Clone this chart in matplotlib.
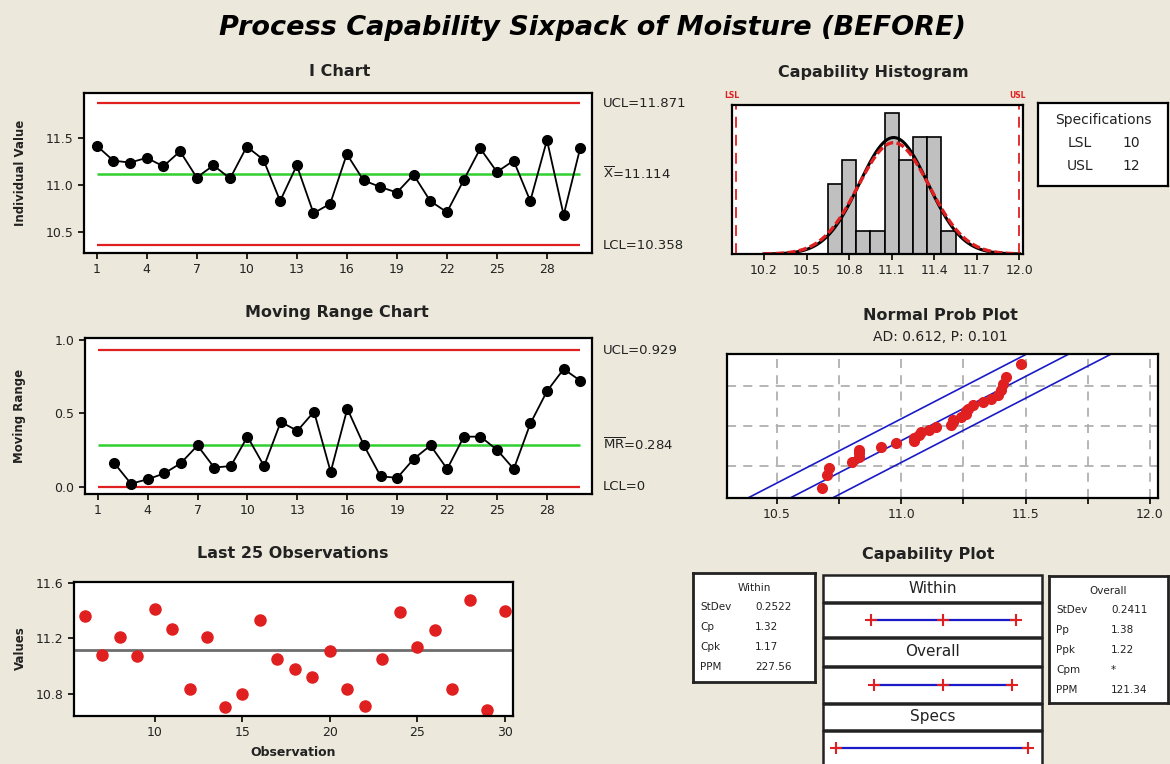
from statistics import NormalDist

import matplotlib
matplotlib.use("Agg")
import matplotlib.pyplot as plt
import numpy as np
from matplotlib.patches import Rectangle
from matplotlib.ticker import FormatStrFormatter
from matplotlib.transforms import blended_transform_factory

# moisture readings in run order
moisture = [11.42, 11.26, 11.24, 11.29, 11.20, 11.36, 11.08, 11.21, 11.07, 11.41,
            11.27, 10.83, 11.21, 10.70, 10.80, 11.33, 11.05, 10.98, 10.92, 11.11,
            10.83, 10.71, 11.05, 11.39, 11.14, 11.26, 10.83, 11.48, 10.68, 11.40]

x_bar, i_ucl, i_lcl = 11.114, 11.871, 10.358
mr_bar, mr_ucl, mr_lcl = 0.284, 0.929, 0.0
lsl, usl = 10, 12
sd_within, sd_overall = 0.2522, 0.2411
ad_stat, ad_p = 0.612, 0.101
band_hw = 0.17   # half-width of the probability plot bands

hist_edges = [10.65, 10.75, 10.85, 10.95, 11.05, 11.15, 11.25, 11.35, 11.45, 11.55]
i_ticks = [1, 4, 7, 10, 13, 16, 19, 22, 25, 28]
hist_ticks = [10.2, 10.5, 10.8, 11.1, 11.4, 11.7, 12.0]

within_labels = ["StDev", "Cp", "Cpk", "PPM"]
within_values = ["0.2522", "1.32", "1.17", "227.56"]
overall_labels = ["StDev", "Pp", "Ppk", "Cpm", "PPM"]
overall_values = ["0.2411", "1.38", "1.22", "*", "121.34"]

BG = "#ECE9DC"
RED = "#E02020"
GREEN = "#30D030"
BLUE = "#1A1AC8"
TXT = "#222222"

W, H = 1170, 764
fig = plt.figure(figsize=(W / 100, H / 100), dpi=100, facecolor=BG)


def box(l, t, r, b):
    return fig.add_axes([l / W, 1 - b / H, (r - l) / W, (b - t) / H])


def style(ax):
    for s in ax.spines.values():
        s.set_linewidth(1.6)
        s.set_color("black")
    ax.tick_params(direction="out", length=4, width=1.2, labelsize=9, colors="black",
                   labelcolor=TXT)


def ftext(x, y, s, **kw):
    kw.setdefault("ha", "center")
    kw.setdefault("va", "center")
    fig.text(x / W, 1 - y / H, s, **kw)


ftext(592, 28, "Process Capability Sixpack of Moisture (BEFORE)", fontsize=19.5,
      weight="bold", style="italic")

obs = np.arange(1, len(moisture) + 1)
n = len(moisture)

# I chart
ax = box(84, 93, 592, 253)
style(ax)
ax.hlines([i_ucl, i_lcl], 1, n, color=RED, lw=1.6)
ax.hlines(x_bar, 1, n, color=GREEN, lw=1.8)
ax.plot(obs, moisture, "o-", color="black", ms=7, lw=1.3)
ax.set_xlim(0.24, 30.7)
ax.set_ylim(10.275, 11.982)
ax.set_xticks(i_ticks)
ax.set_yticks([10.5, 11.0, 11.5])
ax.yaxis.set_major_formatter(FormatStrFormatter("%.1f"))
tr = blended_transform_factory(ax.transAxes, ax.transData)
for v, s in [(i_ucl, f"UCL={i_ucl}"), (x_bar, r"$\overline{\rm X}$=" + f"{x_bar}"),
             (i_lcl, f"LCL={i_lcl}")]:
    ax.text(1.022, v, s, transform=tr, va="center", fontsize=9.5, color=TXT)
ftext(340, 72, "I Chart", fontsize=11.5, weight="bold", color=TXT)
ftext(20, 173, "Individual Value", fontsize=8.5, weight="bold", rotation=90, color=TXT)

# moving range chart
mr = np.abs(np.diff(moisture))
ax = box(85, 338, 592, 494)
style(ax)
ax.hlines([mr_ucl, mr_lcl], 1, n, color=RED, lw=1.6)
ax.hlines(mr_bar, 1, n, color=GREEN, lw=1.8)
ax.plot(obs[1:], mr, "o-", color="black", ms=7, lw=1.3)
ax.set_xlim(0.24, 30.7)
ax.set_ylim(-0.05, 1.011)
ax.set_xticks(i_ticks)
ax.set_yticks([0.0, 0.5, 1.0])
ax.yaxis.set_major_formatter(FormatStrFormatter("%.1f"))
tr = blended_transform_factory(ax.transAxes, ax.transData)
for v, s in [(mr_ucl, f"UCL={mr_ucl}"), (mr_bar, r"$\overline{\rm MR}$=" + f"{mr_bar}"),
             (mr_lcl, "LCL=0")]:
    ax.text(1.022, v, s, transform=tr, va="center", fontsize=9.5, color=TXT)
ftext(337, 313, "Moving Range Chart", fontsize=11.5, weight="bold", color=TXT)
ftext(20, 416, "Moving Range", fontsize=8.5, weight="bold", rotation=90, color=TXT)

# last 25 observations
ax = box(74, 582, 513, 716)
style(ax)
ax.axhline(x_bar, color="#6E6E6E", lw=2)
ax.plot(obs[-25:], moisture[-25:], "o", color=RED, ms=8)
ax.set_xlim(5.37, 30.48)
ax.set_ylim(10.638, 11.607)
ax.set_xticks([10, 15, 20, 25, 30])
ax.set_yticks([10.8, 11.2, 11.6])
ax.yaxis.set_major_formatter(FormatStrFormatter("%.1f"))
ftext(293, 553, "Last 25 Observations", fontsize=11.5, weight="bold", color=TXT)
ftext(293, 752, "Observation", fontsize=9, weight="bold", color=TXT)
ftext(20, 648, "Values", fontsize=8.5, weight="bold", rotation=90, color=TXT)

# capability histogram
ax = box(732, 105, 1023, 254)
style(ax)
ax.hist(moisture, bins=hist_edges, color="#C0C0C0", edgecolor="black", lw=1.2)
xs = np.linspace(10.2, 12.0, 300)
scale = n * (hist_edges[1] - hist_edges[0])
ax.plot(xs, [scale * NormalDist(x_bar, sd_overall).pdf(v) for v in xs], color="black", lw=2.2)
ax.plot(xs, [scale * NormalDist(x_bar, sd_within).pdf(v) for v in xs], color=RED, lw=2.4,
        ls=(0, (2.5, 1)))
for v in (lsl, usl):
    ax.axvline(v, color=RED, lw=1.3, ls=(0, (6, 4)))
ax.set_xlim(9.975, 12.025)
ax.set_ylim(0, 6.35)
ax.set_xticks(hist_ticks)
ax.xaxis.set_major_formatter(FormatStrFormatter("%.1f"))
ax.set_yticks([])
ax.text(0.0, 1.05, "LSL", transform=ax.transAxes, color=RED, fontsize=5.5, weight="bold",
        ha="center")
ax.text(0.98, 1.05, "USL", transform=ax.transAxes, color=RED, fontsize=5.5, weight="bold",
        ha="center")
ftext(873, 72, "Capability Histogram", fontsize=11.5, weight="bold", color=TXT)

# specifications legend
ax = box(1038, 103, 1168, 186)
style(ax)
ax.set_xticks([])
ax.set_yticks([])
ax.set_xlim(0, 130)
ax.set_ylim(83, 0)
ax.text(65, 17, "Specifications", fontsize=10, ha="center", va="center", color=TXT)
ax.text(42, 40, "LSL", fontsize=10, ha="center", va="center", color=TXT)
ax.text(93, 40, f"{lsl}", fontsize=10, ha="center", va="center", color=TXT)
ax.text(42, 63, "USL", fontsize=10, ha="center", va="center", color=TXT)
ax.text(93, 63, f"{usl}", fontsize=10, ha="center", va="center", color=TXT)

# normal probability plot
nd = NormalDist()
srt = np.sort(moisture)
z = [nd.inv_cdf((i - 0.3) / (n + 0.4)) for i in range(1, n + 1)]
ax = box(727, 354, 1158, 498)
style(ax)
zz = np.linspace(-2.5, 2.5, 50)
fit = x_bar + sd_overall * zz
for off in (-band_hw, 0, band_hw):
    ax.plot(fit + off, zz, color=BLUE, lw=1.2)
ax.plot(srt, z, "o", color=RED, ms=7)
ax.set_xlim(10.299, 12.033)
ax.set_ylim(nd.inv_cdf(0.01), nd.inv_cdf(0.99))
ax.set_xticks([10.5, 11.0, 11.5, 12.0])
ax.set_xticks([10.75, 11.25, 11.75], minor=True)
ax.xaxis.set_major_formatter(FormatStrFormatter("%.1f"))
ax.set_yticks([nd.inv_cdf(p) for p in (0.1, 0.5, 0.9)])
ax.tick_params(axis="y", length=0, labelleft=False)
ax.tick_params(axis="x", which="minor", length=4, width=1.2)
ax.grid(which="both", color="#B0B0B0", lw=1.3, ls=(0, (5, 4)))
ax.set_axisbelow(True)
ftext(940, 315, "Normal Prob Plot", fontsize=11.5, weight="bold", color=TXT)
ftext(940, 337, f"AD: {ad_stat}, P: {ad_p}", fontsize=10, color=TXT)

# capability plot
ftext(928, 555, "Capability Plot", fontsize=11.5, weight="bold", color=TXT)
cap = box(823, 573, 1042, 764)
cap.set_xlim(9.861, 12.146)
cap.set_ylim(764, 573)
cap.axis("off")
tr = blended_transform_factory(cap.transAxes, cap.transData)
rows = [(575, 602), (603, 637), (638, 666), (667, 703), (704, 730), (731, 775)]
for top, bot in rows:
    cap.add_patch(Rectangle((0, top), 1, bot - top, transform=tr, facecolor="white",
                            edgecolor="#222222", lw=1.8, clip_on=False))
for (top, bot), name in zip(rows[0::2], ["Within", "Overall", "Specs"]):
    cap.text(0.5, (top + bot) / 2, name, transform=tr, ha="center", va="center",
             fontsize=11, color=TXT)
line_kw = dict(color=BLUE, lw=1.6, marker="+", mec=RED, ms=9, mew=1.5)
cap.plot([x_bar - 3 * sd_within, x_bar, x_bar + 3 * sd_within], [620] * 3, **line_kw)
cap.plot([x_bar - 3 * sd_overall, x_bar, x_bar + 3 * sd_overall], [685] * 3, **line_kw)
cap.plot([lsl, usl], [748] * 2, **line_kw)


def stats_box(l, t, r, b, title, labels, values):
    a = box(l, t, r, b)
    for s in a.spines.values():
        s.set_linewidth(2)
        s.set_color("#222222")
    a.set_xticks([])
    a.set_yticks([])
    a.set_xlim(0, r - l)
    a.set_ylim(b - t, 0)
    a.text((r - l) / 2, 15, title, ha="center", va="center", fontsize=7.5, color=TXT)
    for k, (lab, val) in enumerate(zip(labels, values)):
        y = 34 + 20 * k
        a.text(7, y, lab, va="center", fontsize=7.5, color=TXT)
        a.text(62, y, val, va="center", fontsize=7.5, color=TXT)


stats_box(693, 573, 815, 682, "Within", within_labels, within_values)
stats_box(1049, 576, 1168, 703, "Overall", overall_labels, overall_values)

fig.savefig("out.png", dpi=100, facecolor=BG)
